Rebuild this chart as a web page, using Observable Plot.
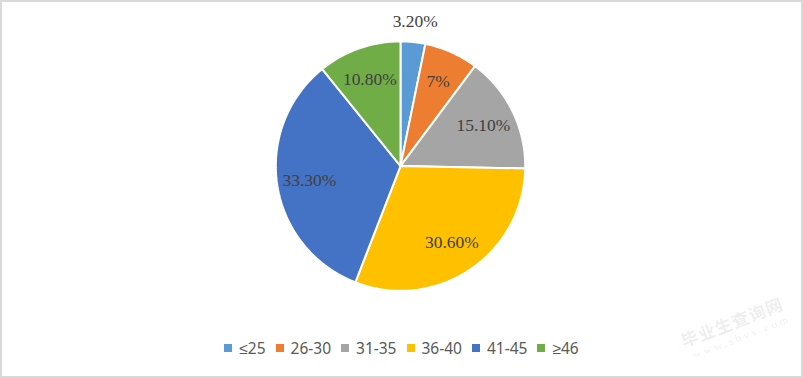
<!DOCTYPE html>
<html>
<head>
<meta charset="utf-8">
<script src="https://cdn.jsdelivr.net/npm/d3@7"></script>
<script src="https://cdn.jsdelivr.net/npm/@observablehq/plot@0.6"></script>
<style>
  html, body { margin: 0; padding: 0; background: #fff; }
  #frame { position: relative; width: 803px; height: 378px; box-sizing: border-box; border: 2px solid #d9d9d9; overflow: hidden; background: #fff; }
  #chart { position: absolute; left: -2px; top: -2px; }
  #chart text { font-family: "Liberation Serif", "Times New Roman", serif; }
  #legend { position: absolute; left: 0; right: 0; top: 335px; display: flex; justify-content: center; font-family: "Noto Sans", "Liberation Sans", sans-serif; font-size: 15.5px; color: #595959; }
  .item { display: flex; align-items: center; margin: 0 5px; }
  .sw { width: 8px; height: 8px; margin-right: 7px; }
  #wm { position: absolute; left: 676px; top: 330px; transform: rotate(-21deg); transform-origin: left top; color: rgba(150,150,150,0.16); font-family: "Noto Sans CJK SC", sans-serif; pointer-events: none; white-space: nowrap; }
  #wm .a { font-size: 17px; font-weight: bold; letter-spacing: 1px; line-height: 20px; }
  #wm .b { font-size: 11px; font-family: "Liberation Serif", serif; letter-spacing: 3px; margin-left: 6px; line-height: 14px; }
</style>
</head>
<body>
<div id="frame">
  <div id="chart"></div>
  <div id="legend"></div>
  <div id="wm"><div class="a">毕业生查询网</div><div class="b">www.sbvv.com</div></div>
</div>
<script>
const categories = ["≤25", "26-30", "31-35", "36-40", "41-45", "≥46"];
const values = [3.2, 7, 15.1, 30.6, 33.3, 10.8];
const valueLabels = ["3.20%", "7%", "15.10%", "30.60%", "33.30%", "10.80%"];
const colors = ["#5B9BD5", "#ED7D31", "#A5A5A5", "#FFC000", "#4472C4", "#70AD47"];

const total = d3.sum(values);
const slices = [];
let acc = 0;
values.forEach((v, i) => {
  const a0 = acc / total * 2 * Math.PI;
  acc += v;
  const a1 = acc / total * 2 * Math.PI;
  slices.push({cat: categories[i], a0, a1, v, label: valueLabels[i]});
});

// polygon points per slice (polar -> unit cartesian, clockwise from top)
const pts = [];
for (const s of slices) {
  pts.push({cat: s.cat, x: 0, y: 0});
  const n = Math.max(2, Math.ceil((s.a1 - s.a0) / (Math.PI / 180)));
  for (let k = 0; k <= n; k++) {
    const a = s.a0 + (s.a1 - s.a0) * k / n;
    pts.push({cat: s.cat, x: Math.sin(a), y: Math.cos(a)});
  }
}

const labelPts = slices.map(s => {
  const m = (s.a0 + s.a1) / 2;
  const r = s.v < 5 ? 1.17 : 0.74;
  return {x: r * Math.sin(m), y: r * Math.cos(m), label: s.label};
});

const cx = 401, cy = 166, R = 125;
const plot = Plot.plot({
  width: 803,
  height: 330,
  margin: 0,
  x: {domain: [-1, 1], range: [cx - R, cx + R], axis: null},
  y: {domain: [-1, 1], range: [cy + R, cy - R], axis: null},
  color: {domain: categories, range: colors},
  marks: [
    Plot.line(pts, {x: "x", y: "y", z: "cat", fill: "cat", stroke: "white", strokeWidth: 2, curve: "linear-closed", strokeLinejoin: "miter"}),
    Plot.text(labelPts, {x: "x", y: "y", text: "label", fill: "#404040", fontSize: 17.5, fontFamily: "Liberation Serif", textAnchor: "middle", lineAnchor: "middle"})
  ]
});
document.getElementById("chart").appendChild(plot);

const legend = document.getElementById("legend");
categories.forEach((c, i) => {
  const it = document.createElement("div");
  it.className = "item";
  const sw = document.createElement("span");
  sw.className = "sw";
  sw.style.background = colors[i];
  const t = document.createElement("span");
  t.textContent = c;
  it.appendChild(sw);
  it.appendChild(t);
  legend.appendChild(it);
});
</script>
</body>
</html>
